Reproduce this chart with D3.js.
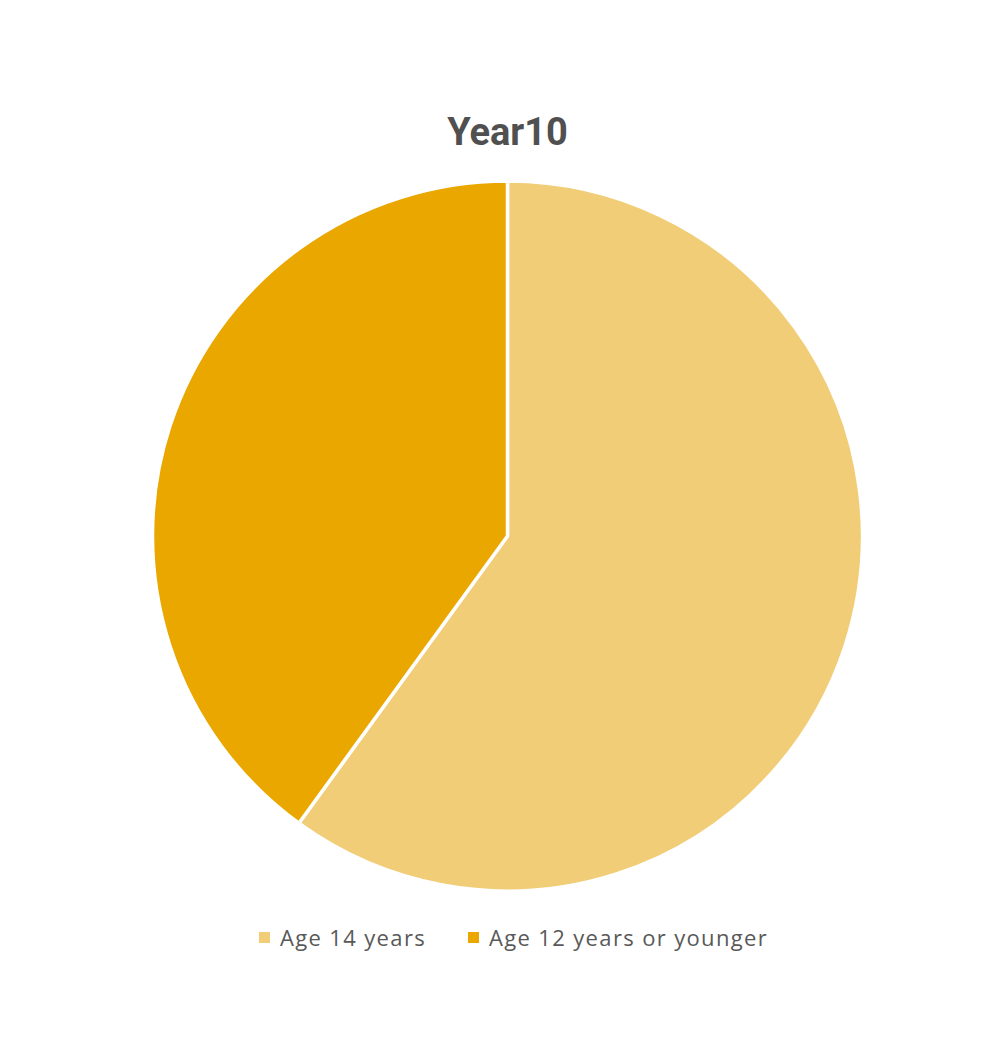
<!DOCTYPE html>
<html>
<head>
<meta charset="utf-8">
<script src="https://cdn.jsdelivr.net/npm/d3@7"></script>
<style>
  body { margin: 0; background: #fff; }
</style>
</head>
<body>
<svg id="chart" width="1001" height="1044"></svg>
<script>
// chart data
var title = "Year10";
var categories = ["Age 14 years", "Age 12 years or younger"];
var values = [60, 40];
var colors = ["#F0CD76", "#E9A700"];

var svg = d3.select("#chart"),
    width = +svg.attr("width"),
    height = +svg.attr("height");

svg.append("rect").attr("width", width).attr("height", height).attr("fill", "#fff");

var cx = 507.5, cy = 536, radius = 355;

// title
svg.append("text")
    .attr("x", cx)
    .attr("y", 145)
    .attr("text-anchor", "middle")
    .style("font-family", "Roboto, sans-serif")
    .style("font-weight", "bold")
    .style("font-size", "38px")
    .style("fill", "#505050")
    .text(title);

var color = d3.scaleOrdinal().domain(categories).range(colors);

var pie = d3.pie().sort(null).value(function(d, i) { return values[i]; });
var arc = d3.arc().innerRadius(0).outerRadius(radius);

var g = svg.append("g").attr("transform", "translate(" + cx + "," + cy + ")");

g.selectAll("path")
    .data(pie(categories))
    .enter().append("path")
    .attr("d", arc)
    .attr("fill", function(d) { return color(d.data); })
    .attr("stroke", "#fff")
    .attr("stroke-width", 3.5)
    .attr("stroke-linejoin", "round");

// legend
var legendX = [259, 468];
var legend = svg.append("g").attr("transform", "translate(0,938)");
var item = legend.selectAll("g")
    .data(categories)
    .enter().append("g")
    .attr("transform", function(d, i) { return "translate(" + legendX[i] + ",0)"; });

item.append("rect")
    .attr("x", 0)
    .attr("y", -6)
    .attr("width", 11)
    .attr("height", 11)
    .attr("fill", function(d) { return color(d); });

item.append("text")
    .attr("x", 21)
    .attr("y", 0)
    .attr("dy", "0.35em")
    .style("font-family", "'Open Sans', sans-serif")
    .style("font-size", "22px")
    .style("letter-spacing", "1.35px")
    .style("fill", "#595959")
    .text(function(d) { return d; });
</script>
</body>
</html>
